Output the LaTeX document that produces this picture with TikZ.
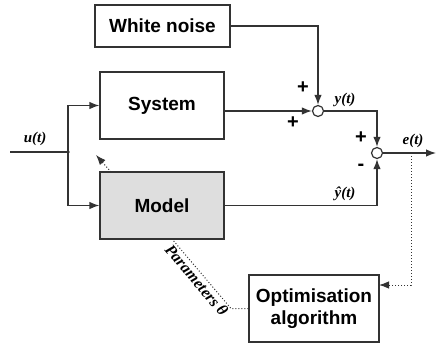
\documentclass[tikz,border=0pt]{standalone}
\usepackage{fontspec}
\setmainfont{Liberation Serif}
\setsansfont{Liberation Sans}
\usetikzlibrary{arrows.meta}

\definecolor{linegray}{HTML}{333333}
\definecolor{modelgray}{HTML}{DEDEDE}

\tikzset{
  block/.style={draw=linegray, line width=1.2pt, minimum width=124pt, minimum height=67pt,
    inner sep=0pt, align=center, font=\sffamily\bfseries\fontsize{19}{22}\selectfont},
  sumnode/.style={circle, draw=linegray, line width=1.2pt, minimum size=11pt, inner sep=0pt},
  sig/.style={font=\bfseries\itshape\fontsize{15}{17}\selectfont},
  sgn/.style={font=\sffamily\bfseries\fontsize{20}{20}\selectfont},
  wire/.style={draw=linegray, line width=1.3pt},
  ctrl/.style={draw=linegray, line width=1pt, dotted},
  tip/.style={-{Latex[length=10pt,width=7.5pt]}},
}

\begin{document}
\begin{tikzpicture}[x=1pt,y=-1pt]
  \useasboundingbox (0,0) rectangle (436,345);

  % blocks
  \node[block, minimum width=135pt, minimum height=42pt] (noise) at (162.5,26) {White noise};
  \node[block] (system) at (162,105.5) {System};
  \node[block, fill=modelgray] (model) at (162,205.5) {Model};
  \node[block, minimum width=130pt] (optim) at (314,308.5) {Optimisation\\algorithm};

  % summing points
  \node[sumnode] (sum1) at (318,111) {};
  \node[sumnode] (sum2) at (377,153) {};

  \coordinate (in) at (10,152);
  \coordinate (split) at (68,152);
  \coordinate (out) at (436,153);
  \coordinate (tap) at (411,153);
  \coordinate (optin) at (379,285);
  \coordinate (adjfoot) at (111,172);
  \coordinate (adjust) at (96,155);
  \coordinate (paramfoot) at (172,239);
  \coordinate (bend) at (231,308.5);

  % signal paths
  \draw[wire] (in) -- (split);
  \fill[linegray] (split) circle (1.8pt);
  \draw[wire, tip] (split) |- (system.west);
  \draw[wire, tip] (split) |- (model.west);
  \draw[wire, tip] (system.east |- sum1) -- (sum1.west);
  \draw[wire, tip] (noise.east) -| (sum1.north);
  \draw[wire, tip] (sum1.east) -| (sum2.north);
  \draw[wire, tip] (model.east) -| (sum2.south);
  \draw[wire, tip] (sum2.east) -- (out);

  % identification loop
  \draw[ctrl, tip] (tap) |- (optin);
  \draw[ctrl] (optim.west) -- (bend) -- (paramfoot);
  \path (paramfoot) -- node[sig, sloped, below, pos=0.52, inner sep=2pt,
    font=\bfseries\itshape\fontsize{16}{18}\selectfont] (params) {Parameters θ} (bend);
  \draw[ctrl, tip] (adjfoot) -- (adjust);

  % labels
  \node[sig] (ulab) at (35,139) {u(t)};
  \node[sig] (ylab) at (345,100) {y(t)};
  \node[sig] (yhatlab) at (345,194) {ŷ(t)};
  \node[sig] (elab) at (413,141) {e(t)};
  \node[sgn] (p1) at (303,88) {+};
  \node[sgn] (p2) at (293,123) {+};
  \node[sgn] (p3) at (361,138) {+};
  \node[sgn] (m1) at (361,167) {-};
\end{tikzpicture}
\end{document}
